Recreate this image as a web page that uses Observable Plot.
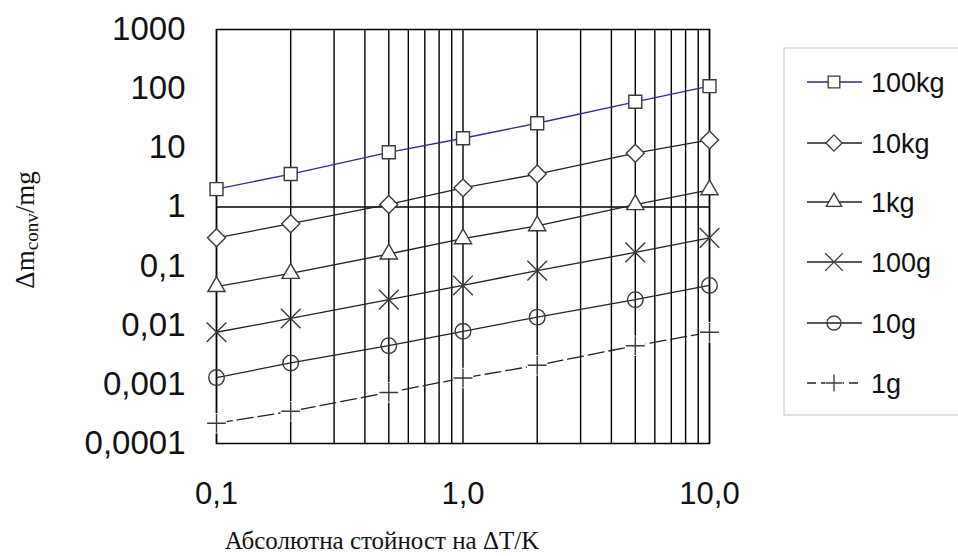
<!DOCTYPE html>
<html>
<head>
<meta charset="utf-8">
<script src="https://cdn.jsdelivr.net/npm/d3@7"></script>
<script src="https://cdn.jsdelivr.net/npm/@observablehq/plot@0.6"></script>
<style>
  html, body { margin: 0; padding: 0; background: #fff; }
  #wrap { position: relative; width: 958px; height: 556px; background: #fff; overflow: hidden; }
  #wrap > svg { position: absolute; left: 0; top: 0; }
</style>
</head>
<body>
<div id="wrap"></div>
<script>
// ---- data ----
const xValues = [0.1, 0.2, 0.5, 1, 2, 5, 10];
const seriesNames = ["100kg", "10kg", "1kg", "100g", "10g", "1g"];
const s100kg = [2.0, 3.6, 8.4, 14.5, 26, 60, 110];
const s10kg  = [0.30, 0.52, 1.1, 2.1, 3.6, 8.1, 13.6];
const s1kg   = [0.045, 0.075, 0.16, 0.29, 0.48, 1.09, 1.95];
const s100g  = [0.0076, 0.013, 0.027, 0.047, 0.084, 0.17, 0.30];
const s10g   = [0.0013, 0.0023, 0.0045, 0.0079, 0.0137, 0.027, 0.047];
const s1g    = [0.00022, 0.00035, 0.00073, 0.00128, 0.0021, 0.0045, 0.0076];
const seriesValues = [s100kg, s10kg, s1kg, s100g, s10g, s1g];

const yTicks = [0.0001, 0.001, 0.01, 0.1, 1, 10, 100, 1000];
const yTickLabels = ["0,0001", "0,001", "0,01", "0,1", "1", "10", "100", "1000"];
const xTicks = [0.1, 1, 10];
const xTickLabels = ["0,1", "1,0", "10,0"];
const xGrid = [0.1, 0.2, 0.3, 0.4, 0.5, 0.6, 0.7, 0.8, 0.9, 1, 2, 3, 4, 5, 6, 7, 8, 9, 10];
const yGrid = [1];

const yTitleMain = "Δm";
const yTitleSub = "conv";
const yTitleTail = "/mg";
const xTitle = "Абсолютна стойност на ΔT/K";

// ---- styles per series ----
const styles = {
  "100kg": {line: "#34289a", dash: null, symbol: "square", r: 7.3, fill: "#fff"},
  "10kg":  {line: "#222", dash: null, symbol: "diamond2", r: 8.1, fill: "#fff"},
  "1kg":   {line: "#222", dash: null, symbol: "triangle2", r: 8.2, fill: "#fff"},
  "100g":  {line: "#222", dash: null, symbol: "times", r: 9.0, fill: "none"},
  "10g":   {line: "#222", dash: null, symbol: "circle", r: 7.8, fill: "none"},
  "1g":    {line: "#222", dash: "16,5", symbol: "plus", r: 6.1, fill: "none", halo: true}
};

const rows = [];
seriesNames.forEach((name, i) => {
  xValues.forEach((x, j) => rows.push({series: name, x, y: seriesValues[i][j]}));
});

const marks = [
  Plot.ruleX(xGrid, {stroke: "#000", strokeWidth: 1.4}),
  Plot.ruleY(yGrid, {stroke: "#000", strokeWidth: 1.4}),
  Plot.frame({stroke: "#000", strokeWidth: 1.5}),
  Plot.axisY(yTicks, {label: null, tickSize: 0, tickPadding: 31, tickFormat: d => yTickLabels[yTicks.indexOf(d)], fontSize: 33, fontFamily: "Liberation Sans, Arial, sans-serif", fill: "#111"}),
  Plot.axisX(xTicks, {label: null, tickSize: 0, tickPadding: 38, tickFormat: d => xTickLabels[xTicks.indexOf(d)], fontSize: 31, fontFamily: "Liberation Sans, Arial, sans-serif", fill: "#111"})
];
seriesNames.forEach(name => {
  const st = styles[name];
  const data = rows.filter(d => d.series === name);
  marks.push(Plot.line(data, {x: "x", y: "y", stroke: st.line, strokeWidth: 1.3, strokeDasharray: st.dash || undefined}));
});
seriesNames.forEach(name => {
  const st = styles[name];
  const data = rows.filter(d => d.series === name);
  if (st.halo) marks.push(Plot.dot(data, {x: "x", y: "y", symbol: "square", r: 11.5, fill: "#fff", stroke: "none"}));
  marks.push(Plot.dot(data, {x: "x", y: "y", symbol: st.symbol, r: st.r, fill: st.fill, stroke: "#3a3a3a", strokeWidth: 1.4}));
});

const chart = Plot.plot({
  width: 958,
  height: 556,
  marginLeft: 216,
  marginRight: 249,
  marginTop: 29,
  marginBottom: 113,
  x: {type: "log", domain: [0.1, 10], label: null},
  y: {type: "log", domain: [0.0001, 1000], label: null},
  style: {background: "#fff", overflow: "visible"},
  marks
});
document.getElementById("wrap").appendChild(chart);

// ---- overlay: axis titles + legend ----
const ov = d3.select("#wrap").append("svg")
  .attr("width", 958).attr("height", 556)
  .style("pointer-events", "none");

const yt = ov.append("text")
  .attr("transform", "translate(34,230) rotate(-90)")
  .attr("text-anchor", "middle")
  .attr("font-family", "Liberation Serif, Times New Roman, serif")
  .attr("font-size", 27)
  .attr("fill", "#111");
yt.append("tspan").text(yTitleMain);
yt.append("tspan").attr("font-size", 19).attr("dy", 4).text(yTitleSub);
yt.append("tspan").attr("dy", -4).text(yTitleTail);

ov.append("text")
  .attr("x", 382).attr("y", 549)
  .attr("text-anchor", "middle")
  .attr("font-family", "Liberation Serif, Times New Roman, serif")
  .attr("font-size", 25)
  .attr("fill", "#111")
  .text(xTitle);

// legend
ov.append("rect").attr("x", 784).attr("y", 48).attr("width", 200).attr("height", 367)
  .attr("fill", "#fff").attr("stroke", "#cfcfcf").attr("stroke-width", 1.2);
const legendY = [82, 143, 202, 262, 323, 383];
const symMap = {square: d3.symbolSquare, diamond2: d3.symbolDiamond2, triangle2: d3.symbolTriangle2, times: d3.symbolTimes, circle: d3.symbolCircle, plus: d3.symbolPlus};
seriesNames.forEach((name, i) => {
  const st = styles[name];
  const y = legendY[i];
  ov.append("line").attr("x1", 807).attr("x2", 862).attr("y1", y).attr("y2", y)
    .attr("stroke", st.line).attr("stroke-width", 1.3)
    .attr("stroke-dasharray", st.dash ? "9,5" : null);
  if (st.halo) {
    ov.append("path").attr("transform", `translate(834,${y})`)
      .attr("d", d3.symbol(d3.symbolSquare, Math.PI * 10 * 10)())
      .attr("fill", "#fff");
  }
  ov.append("path").attr("transform", `translate(834,${y})`)
    .attr("d", d3.symbol(symMap[st.symbol], Math.PI * (st.r * 0.9) ** 2)())
    .attr("fill", st.fill).attr("stroke", "#3a3a3a").attr("stroke-width", 1.3);
  ov.append("text").attr("x", 871).attr("y", y).attr("dy", "0.36em")
    .attr("font-family", "Liberation Sans, Arial, sans-serif")
    .attr("font-size", 27).attr("fill", "#111")
    .text(name);
});
</script>
</body>
</html>
